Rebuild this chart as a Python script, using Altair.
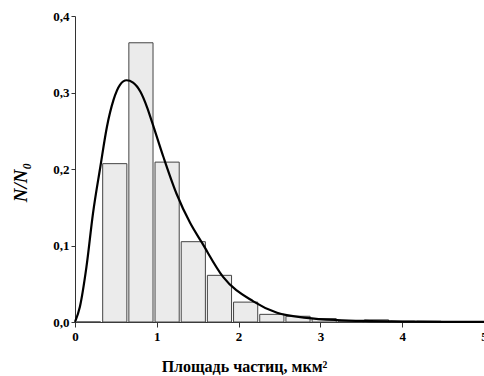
import altair as alt
import pandas as pd

# Histogram bins (particle area, um^2) and relative frequency N/N0
bin_start = [0.00, 0.32, 0.64, 0.96, 1.28, 1.60, 1.92, 2.24, 2.56, 2.88, 3.20, 3.52, 3.84, 4.16]
bin_end   = [0.32, 0.64, 0.96, 1.28, 1.60, 1.92, 2.24, 2.56, 2.88, 3.20, 3.52, 3.84, 4.16, 4.48]
freq      = [0.000, 0.207, 0.365, 0.209, 0.105, 0.061, 0.026, 0.010, 0.0075, 0.0045, 0.0012, 0.0028, 0.0010, 0.0010]

# Fitted distribution curve
curve_x = [0.00, 0.06, 0.14, 0.22, 0.31, 0.39, 0.47, 0.55, 0.63, 0.71, 0.80, 0.88, 0.94,
           1.08, 1.24, 1.41, 1.55, 1.81, 2.18, 2.47, 2.83, 3.20, 3.60, 4.00, 4.50, 5.00]
curve_y = [0.000, 0.020, 0.072, 0.142, 0.203, 0.255, 0.290, 0.310, 0.316, 0.313, 0.301, 0.281, 0.262,
           0.216, 0.168, 0.129, 0.104, 0.059, 0.027, 0.012, 0.0055, 0.0025, 0.0012, 0.0006, 0.0002, 0.0001]

x_ticks = [0, 0.5, 1, 1.5, 2, 2.5, 3, 3.5, 4, 4.5, 5]
y_ticks = [0, 0.05, 0.1, 0.15, 0.2, 0.25, 0.3, 0.35, 0.4]

bars_df = pd.DataFrame({"start": bin_start, "end": bin_end, "freq": freq})
curve_df = pd.DataFrame({"x": curve_x, "y": curve_y})

FONT = "Liberation Serif"

x_scale = alt.Scale(domain=[0, 5], nice=False, zero=False)
y_scale = alt.Scale(domain=[0, 0.4], nice=False)

x_axis = alt.Axis(
    values=x_ticks,
    labelExpr="datum.value % 1 === 0 ? datum.label : ''",
    format="d",
    grid=False, domainColor="#333", tickColor="#333", tickSize=5, tickWidth=1,
    labelFont=FONT, labelFontSize=13, labelFontWeight="bold", labelColor="black",
    labelPadding=3, labelFlush=False, labelOverlap=False,
    title="Площадь частиц, мкм²", titleFont=FONT, titleFontSize=16, titleFontWeight="bold",
    titleColor="black", titleX=169, titleY=49, titleAlign="center", titleBaseline="alphabetic",
)

y_axis = alt.Axis(
    values=y_ticks,
    labelExpr="(round(datum.value*100) % 10 === 0) ? replace(format(datum.value, '.1f'), '.', ',') : ''",
    grid=False, domainColor="#333", tickColor="#333", tickSize=4, tickWidth=1,
    labelFont=FONT, labelFontSize=13, labelFontWeight="bold", labelColor="black",
    labelPadding=2, labelFlush=False, labelOverlap=False,
    title="N/N₀", titleFont=FONT, titleFontSize=19, titleFontWeight="bold", titleFontStyle="italic",
    titleColor="black", titleX=-55, titleY=166, titleAngle=270, titleAlign="center", titleBaseline="middle",
)

bars = alt.Chart(bars_df).mark_bar(
    fill="#ebebeb", stroke="#444", strokeWidth=1, binSpacing=2
).encode(
    x=alt.X("start:Q", bin="binned", scale=x_scale, axis=x_axis),
    x2="end:Q",
    y=alt.Y("freq:Q", scale=y_scale, axis=y_axis),
)

line = alt.Chart(curve_df).mark_line(
    color="black", strokeWidth=2.2, interpolate="monotone"
).encode(
    x=alt.X("x:Q", scale=x_scale),
    y=alt.Y("y:Q", scale=y_scale),
)

chart = alt.layer(bars, line).properties(
    width=409, height=306,
    autosize=alt.AutoSizeParams(type="none"),
    padding={"left": 75, "top": 16, "right": 0, "bottom": 54},
    background="white",
).configure_view(stroke=None)

chart.save("out.html", embed_options={"renderer": "svg", "actions": False})
